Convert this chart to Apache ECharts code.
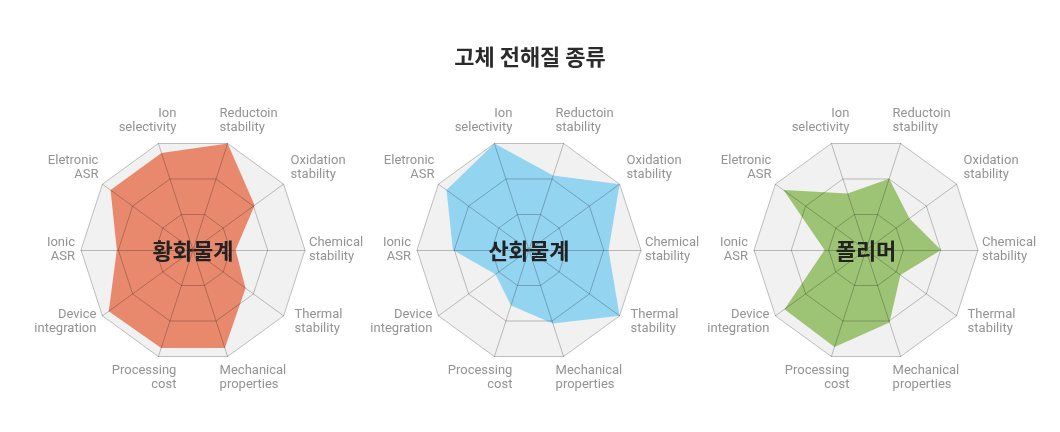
<!DOCTYPE html>
<html>
<head>
<meta charset="utf-8">
<script src="https://cdn.jsdelivr.net/npm/echarts@6/dist/echarts.min.js"></script>
<style>
html,body{margin:0;padding:0;background:#fff;}
#main{width:1060px;height:432px;}
</style>
</head>
<body>
<div id="main"></div>
<script>
// ---- data ----
const chartTitle = '고체 전해질 종류';
const indicatorNames = [
  'Ion\nselectivity',
  'Eletronic\nASR',
  'Ionic\nASR',
  'Device\nintegration',
  'Processing\ncost',
  'Mechanical\nproperties',
  'Thermal\nstability',
  'Chemical\nstability',
  'Oxidation\nstability',
  'Reductoin\nstability'
];
const maxValue = 100;
const groupNames = ['황화물계', '산화물계', '폴리머'];
const sulfideValues = [91, 91, 68, 93, 92, 92, 58, 38, 68, 100];
const oxideValues   = [100, 91, 68, 37, 52, 69, 100, 71, 100, 70];
const polymerValues = [53, 91, 37, 90, 91, 68, 38, 67, 48, 67];

// ---- layout / style (not data) ----
const groupValues = [sulfideValues, oxideValues, polymerValues];
const fillColors = ['#e8896e', '#93d4f1', '#9dc475'];
const centersX = [193, 529, 866];
const centerY = 250;
const radarRadius = 112;
// label placement around each vertex: [align, verticalAlign, padding]
const labelLayout = [
  ['right', 'bottom', [0, -18, 9, 0]],
  ['right', 'bottom', [0, 4, 2, 0]],
  ['right', 'middle', [0, 6, 0, 0]],
  ['right', 'top',    [-8, 6, 0, 0]],
  ['right', 'top',    [7, -18, 0, 0]],
  ['left',  'top',    [7, 0, 0, -8]],
  ['left',  'top',    [-8, 0, 0, 11]],
  ['left',  'middle', [0, 0, 0, 4]],
  ['left',  'bottom', [0, 0, 2, 7]],
  ['left',  'bottom', [0, 0, 9, -8]]
];

const radars = [];
const series = [];
const titles = [{
  text: chartTitle,
  left: 'center',
  top: 46,
  padding: 0,
  textStyle: {
    fontFamily: '"Noto Sans CJK KR", sans-serif',
    fontSize: 22,
    fontWeight: 'bold',
    color: '#2b2b2b'
  }
}];

groupNames.forEach(function (g, gi) {
  const indicatorsBase = indicatorNames.map(function (n, i) {
    return {
      name: n,
      max: maxValue,
      min: 0,
      nameTextStyle: {
        align: labelLayout[i][0],
        verticalAlign: labelLayout[i][1],
        padding: labelLayout[i][2]
      }
    };
  });
  const indicatorsTop = indicatorNames.map(function (n) {
    return { name: n, max: maxValue, min: 0 };
  });
  // bottom radar: background area + axis names
  radars.push({
    center: [centersX[gi], centerY],
    radius: radarRadius,
    startAngle: 108,
    shape: 'polygon',
    splitNumber: 3,
    indicator: indicatorsBase,
    axisNameGap: 0,
    axisName: {
      color: '#939393',
      fontFamily: 'Roboto, sans-serif',
      fontSize: 13,
      lineHeight: 14
    },
    splitArea: { show: true, areaStyle: { color: ['#f1f1f1', '#f1f1f1', '#f1f1f1'] } },
    splitLine: { show: false },
    axisLine: { show: false },
    z: 0
  });
  // top radar: grid lines drawn over the filled area
  radars.push({
    center: [centersX[gi], centerY],
    radius: radarRadius,
    startAngle: 108,
    shape: 'polygon',
    splitNumber: 3,
    indicator: indicatorsTop,
    axisName: { show: false },
    splitArea: { show: false },
    splitLine: { show: true, lineStyle: { color: 'rgba(0,0,0,0.24)', width: 1 } },
    axisLine: { show: true, lineStyle: { color: 'rgba(0,0,0,0.24)', width: 1 } },
    silent: true,
    z: 5
  });
  series.push({
    type: 'radar',
    radarIndex: gi * 2,
    silent: true,
    symbol: 'none',
    lineStyle: { width: 0 },
    areaStyle: { color: fillColors[gi], opacity: 1 },
    z: 2,
    data: [{ value: groupValues[gi], name: g }]
  });
  titles.push({
    text: g,
    left: centersX[gi],
    top: centerY + 1,
    textAlign: 'center',
    textVerticalAlign: 'middle',
    padding: 0,
    z: 10,
    textStyle: {
      fontFamily: '"Noto Sans CJK KR", sans-serif',
      fontSize: 22,
      fontWeight: 'bold',
      color: '#222'
    }
  });
});

const chart = echarts.init(document.getElementById('main'), null, { renderer: 'canvas' });
chart.setOption({
  backgroundColor: '#ffffff',
  animation: false,
  title: titles,
  radar: radars,
  series: series
});
</script>
</body>
</html>
